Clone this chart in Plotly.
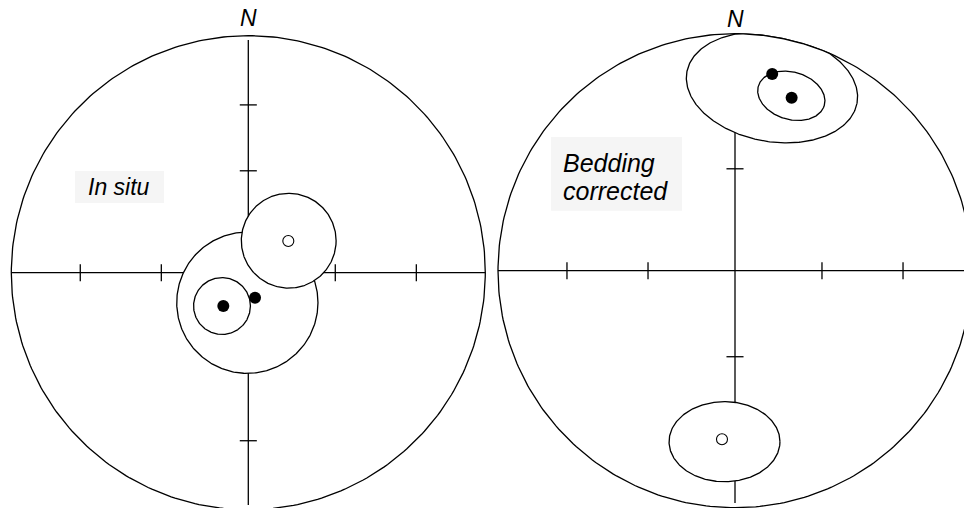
import numpy as np
import plotly.graph_objects as go

# all positions in units of the primitive circle radius (equal-area net)
tick_h = [-0.709, -0.367, 0.367, 0.709]          # ticks along E-W axis
tick_v_insitu = [-0.709, -0.363, 0.430, 0.708]   # ticks along N-S axis
tick_v_bedcor = [-0.709, -0.363, 0.430, 0.708]

# In situ: confidence circles (centre x, centre y, radius)
insitu_circ_x = [-0.004, -0.111, 0.1705]
insitu_circ_y = [-0.1266, -0.1405, 0.135]
insitu_circ_r = [0.298, 0.120, 0.200]
insitu_full_x = [-0.1055, 0.0283]
insitu_full_y = [-0.1405, -0.1055]
insitu_open_x = [0.1688]
insitu_open_y = [0.1338]

# Bedding corrected: confidence ellipses (x, y, semi-major, semi-minor, angle deg)
bedcor_ell_x = [0.156, 0.2376, -0.0443]
bedcor_ell_y = [0.773, 0.738, -0.7215]
bedcor_ell_a = [0.365, 0.145, 0.234]
bedcor_ell_b = [0.228, 0.100, 0.169]
bedcor_ell_ang = [-10.4, -16.5, 0.0]
bedcor_full_x = [0.157, 0.239]
bedcor_full_y = [0.830, 0.730]
bedcor_open_x = [-0.0549]
bedcor_open_y = [-0.711]

R_PX = 237
W, H = 964, 508
centres = {"insitu": (248.3, 272.7), "bedcor": (735.0, 270.7)}

LW = 1.3
t = np.linspace(0, 2 * np.pi, 361)


def ellipse(cx, cy, a, b, ang, clip=True):
    th = np.radians(ang)
    x = a * np.cos(t)
    y = b * np.sin(t)
    xs = cx + x * np.cos(th) - y * np.sin(th)
    ys = cy + x * np.sin(th) + y * np.cos(th)
    if clip:
        r = np.hypot(xs, ys)
        s = np.where(r > 1, 1 / r, 1)
        xs, ys = xs * s, ys * s
    return xs, ys


def line(fig, xs, ys, ax, fill=False):
    fig.add_trace(go.Scatter(
        x=xs, y=ys, mode="lines", xaxis=ax[0], yaxis=ax[1],
        line=dict(color="black", width=LW),
        fill="toself" if fill else None, fillcolor="white",
        hoverinfo="skip", showlegend=False))


def net(fig, ax, tick_v):
    xs, ys = ellipse(0, 0, 1, 1, 0, clip=False)
    line(fig, xs, ys, ax)
    line(fig, [-1, 1], [0, 0], ax)
    line(fig, [0, 0], [0.982, -0.98], ax)
    d = 0.036
    for p in tick_h:
        line(fig, [p, p], [-d, d], ax)
    for p in tick_v:
        line(fig, [-d, d], [p, p], ax)


def dots(fig, xs, ys, ax, filled):
    fig.add_trace(go.Scatter(
        x=xs, y=ys, mode="markers", xaxis=ax[0], yaxis=ax[1],
        marker=dict(size=12 if filled else 11,
                    color="black" if filled else "white",
                    line=dict(color="black", width=0 if filled else 1.1)),
        hoverinfo="skip", showlegend=False))


fig = go.Figure()

# left net
A1 = ("x", "y")
net(fig, A1, tick_v_insitu)
for cx, cy, r in zip(insitu_circ_x, insitu_circ_y, insitu_circ_r):
    xs, ys = ellipse(cx, cy, r, r, 0)
    line(fig, xs, ys, A1, fill=True)
dots(fig, insitu_full_x, insitu_full_y, A1, True)
dots(fig, insitu_open_x, insitu_open_y, A1, False)

# right net
A2 = ("x2", "y2")
net(fig, A2, tick_v_bedcor)
for cx, cy, a, b, g in zip(bedcor_ell_x, bedcor_ell_y, bedcor_ell_a, bedcor_ell_b, bedcor_ell_ang):
    xs, ys = ellipse(cx, cy, a, b, g)
    line(fig, xs, ys, A2, fill=True)
dots(fig, bedcor_full_x, bedcor_full_y, A2, True)
dots(fig, bedcor_open_x, bedcor_open_y, A2, False)


def rng(c):
    cx, cy = c
    return [-cx / R_PX, (W - cx) / R_PX], [-(H - cy) / R_PX, cy / R_PX]


xr1, yr1 = rng(centres["insitu"])
xr2, yr2 = rng(centres["bedcor"])
hidden = dict(visible=False, showgrid=False, zeroline=False, fixedrange=True)

font = dict(family="Liberation Sans, Arial, sans-serif", size=23, color="black")
font_b = dict(font, size=25)
fig.update_layout(
    width=W, height=H,
    margin=dict(l=0, r=0, t=0, b=0),
    paper_bgcolor="white", plot_bgcolor="rgba(0,0,0,0)",
    xaxis=dict(range=xr1, domain=[0, 1], **hidden),
    yaxis=dict(range=yr1, domain=[0, 1], **hidden),
    xaxis2=dict(range=xr2, domain=[0, 1], overlaying="x", **hidden),
    yaxis2=dict(range=yr2, domain=[0, 1], overlaying="y", **hidden),
    shapes=[
        dict(type="rect", xref="x", yref="y", x0=-0.731, x1=-0.356, y0=0.294, y1=0.429,
             fillcolor="#f5f5f5", line_width=0, layer="below"),
        dict(type="rect", xref="x2", yref="y2", x0=-0.776, x1=-0.2236, y0=0.253, y1=0.564,
             fillcolor="#f5f5f5", line_width=0, layer="below"),
    ],
    annotations=[
        dict(text="<i>N</i>", x=0, y=1.073, xref="x", yref="y", showarrow=False, font=font),
        dict(text="<i>N</i>", x=0, y=1.062, xref="x2", yref="y2", showarrow=False, font=font),
        dict(text="<i>In situ</i>", x=-0.5456, y=0.362, xref="x", yref="y",
             showarrow=False, font=font),
        dict(text="<i>Bedding</i>", x=-0.730, y=0.4565, xref="x2", yref="y2",
             xanchor="left", showarrow=False, font=font_b, borderpad=0),
        dict(text="<i>corrected</i>", x=-0.730, y=0.3363, xref="x2", yref="y2",
             xanchor="left", showarrow=False, font=font_b, borderpad=0),
    ],
)

fig.write_html("out.html", post_script="document.body.style.margin='0';",
               config={"displayModeBar": False})
